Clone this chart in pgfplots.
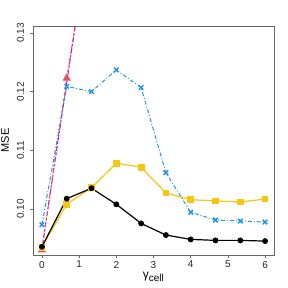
\documentclass[border=0pt]{standalone}
\usepackage{fontspec}
\setmainfont{Liberation Sans}
\usepackage{pgfplots}
\pgfplotsset{compat=1.18}
\definecolor{rblack}{HTML}{000000}
\definecolor{rred}{HTML}{DF536B}
\definecolor{rblue}{HTML}{2297E6}
\definecolor{rmag}{HTML}{CD0BBC}
\definecolor{ryel}{HTML}{F5C710}
\begin{document}
\begin{tikzpicture}
\useasboundingbox (0,0) rectangle (288pt,288pt);
\begin{axis}[
  at={(33pt,33pt)}, anchor=south west,
  scale only axis, width=241pt, height=229pt,
  xmin=-0.24, xmax=6.24, ymin=0.09216, ymax=0.13119,
  axis line style={black!60, line width=0.6pt},
  xtick={0,1,2,3,4,5,6},
  ytick={0.10,0.11,0.12,0.13},
  yticklabels={0.10,0.11,0.12,0.13},
  tick align=outside, tick pos=left,
  major tick length=3.5pt,
  tick style={black!60, line width=0.6pt},
  /pgf/number format/assume math mode=true,
  ticklabel style={font=\fontsize{10}{12}\selectfont, text=black!85},
  yticklabel style={xshift=-2pt, rotate=90, anchor=south},
  xticklabel style={yshift=1pt},
  xlabel={\fontsize{12}{13}\selectfont γ\textsubscript{\fontsize{10}{12}\selectfont cell}},
  ylabel={MSE},
  label style={font=\fontsize{11}{13}\selectfont},
  xlabel style={yshift=3pt},
  ylabel style={yshift=1pt},
  clip=true,
]
\addplot[rmag, line width=1pt, dash pattern=on 5pt off 2pt on 2pt off 2pt, mark=square*, mark size=2.8pt, mark indices={1}, mark options={solid}] coordinates {
(0,0.0932) (0.6667,0.1215) (1.3333,0.150)};
\addplot[rred, line width=1pt, dashed, mark=triangle*, mark size=3.8pt, mark options={solid}] coordinates {
(0,0.0930) (0.6667,0.1223) (1.3333,0.148)};
\addplot[rblue, line width=1pt, dash pattern=on 4pt off 2pt on 1pt off 2pt, mark=x, mark size=3.2pt, mark options={solid, line width=1.5pt}] coordinates {
(0,0.09732) (0.6667,0.1209) (1.3333,0.1200) (2,0.1237) (2.6667,0.1207) (3.3333,0.1062) (4,0.09944) (4.6667,0.09812) (5.3333,0.09795) (6,0.09778)};
\addplot[ryel, line width=1.2pt, mark=square*, mark size=2.8pt] coordinates {
(0,0.0935) (0.6667,0.1008) (1.3333,0.10364) (2,0.1078) (2.6667,0.10713) (3.3333,0.10274) (4,0.10159) (4.6667,0.10137) (5.3333,0.1012) (6,0.1017)};
\addplot[rblack, line width=1.2pt, mark=*, mark size=2.3pt] coordinates {
(0,0.09356) (0.6667,0.10176) (1.3333,0.10354) (2,0.1008) (2.6667,0.09755) (3.3333,0.09556) (4,0.09482) (4.6667,0.09465) (5.3333,0.09465) (6,0.09453)};
\end{axis}
\end{tikzpicture}
\end{document}
